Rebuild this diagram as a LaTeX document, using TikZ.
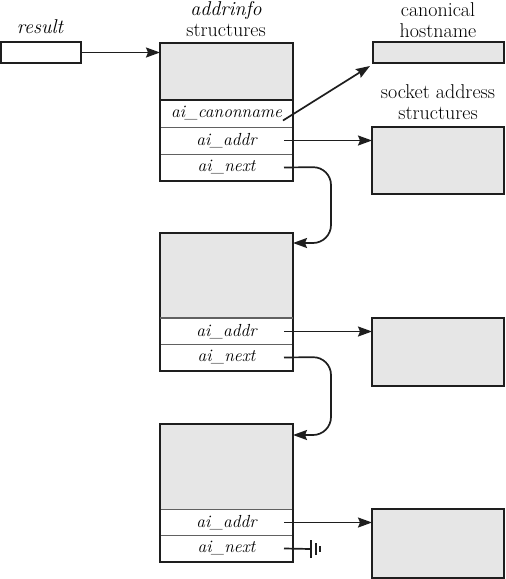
\documentclass[tikz,border=0pt]{standalone}
\usetikzlibrary{arrows.meta}
\definecolor{boxgray}{HTML}{E6E6E6}
\definecolor{ink}{HTML}{1E1E1E}
\begin{document}
\begin{tikzpicture}[x=1pt,y=-1pt,
  font=\fontsize{20}{24}\selectfont,
  every node/.style={inner sep=0pt, outer sep=0pt},
  grayfill/.style={fill=boxgray, draw=ink, line width=1.7pt, anchor=north west},
  rowbox/.style={fill=white, draw=ink!70, line width=1pt, anchor=north west, minimum width=133pt, minimum height=27pt, font=\fontsize{17.5}{21}\selectfont\itshape},
  outline/.style={draw=ink, line width=1.8pt},
  lbl/.style={font=\fontsize{20}{24}\selectfont},
  ptr/.style={draw=ink, line width=1.7pt, -{Stealth[length=14pt,width=10pt,inset=2pt]}},
  nextptr/.style={ptr, rounded corners=18pt}
]
\useasboundingbox (0,0) rectangle (506,579);

% labels
\node[lbl] (lres) at (40,27) {\itshape result};
\node[lbl] (laddr1) at (226,10) {\itshape addrinfo};
\node[lbl] (laddr2) at (226,30) {structures};
\node[lbl] (lcan1) at (438,10) {canonical};
\node[lbl] (lcan2) at (438,31) {hostname};
\node[lbl] (lsock1) at (438,92) {socket address};
\node[lbl] (lsock2) at (438,113) {structures};

% result box
\node[grayfill, fill=white, minimum width=80pt, minimum height=21pt] (res) at (1,42) {};

% addrinfo box 1
\node[grayfill, draw=none, minimum width=133pt, minimum height=57pt] (g1) at (160,43) {};
\node[rowbox] (canon1) at (160,100) {ai\_canonname};
\node[rowbox] (addr1) at (160,127) {ai\_addr};
\node[rowbox] (next1) at (160,154) {ai\_next};
\draw[outline] (g1.north west) rectangle (next1.south east);
\draw[ink, line width=1.4pt] (g1.south west) -- (g1.south east);

% addrinfo box 2
\node[grayfill, draw=none, minimum width=133pt, minimum height=85pt] (g2) at (160,233) {};
\node[rowbox] (addr2) at (160,318) {ai\_addr};
\node[rowbox] (next2) at (160,344) {ai\_next};
\draw[outline] (g2.north west) rectangle (next2.south east);
\draw[ink!70, line width=1.4pt] (g2.south west) -- (g2.south east);

% addrinfo box 3
\node[grayfill, draw=none, minimum width=133pt, minimum height=85pt] (g3) at (160,424) {};
\node[rowbox] (addr3) at (160,509) {ai\_addr};
\node[rowbox] (next3) at (160,535) {ai\_next};
\draw[outline] (g3.north west) rectangle (next3.south east);

% canonical hostname and socket address boxes
\node[grayfill, minimum width=131pt, minimum height=21pt] (canon) at (373,42) {};
\node[grayfill, minimum width=132pt, minimum height=67pt] (sock1) at (372,127) {};
\node[grayfill, minimum width=132pt, minimum height=68pt] (sock2) at (372,318) {};
\node[grayfill, minimum width=132pt, minimum height=69pt] (sock3) at (372,509) {};

% pointer start points
\coordinate (scan) at ([xshift=-10pt,yshift=-7pt]canon1.east);
\coordinate (sa1) at ([xshift=-9pt]addr1.east);
\coordinate (sn1) at ([xshift=-9pt]next1.east);
\coordinate (sa2) at ([xshift=-9pt]addr2.east);
\coordinate (sn2) at ([xshift=-9pt]next2.east);
\coordinate (sa3) at ([xshift=-9pt]addr3.east);
\coordinate (sn3) at ([xshift=-9pt]next3.east);
\coordinate (gnd) at (311,549);

% connectors
\draw[ptr] (res.east) -- (g1.west |- res.east);
\draw[ptr] (scan) -- ([xshift=-3pt,yshift=-3pt]canon.south west);
\draw[ptr] (sa1) -- (sa1 -| sock1.west);
\draw[ptr] (sa2) -- (sa2 -| sock2.west);
\draw[ptr] (sa3) -- (sa3 -| sock3.west);
\draw[nextptr] (sn1) -- (331,167) -- (331,243) -- ([yshift=-10pt]g2.north east);
\draw[nextptr] (sn2) -- (331,357) -- (331,435) -- ([yshift=-11pt]g3.north east);

% null terminator
\draw[ink, line width=1.7pt] (sn3) -- (gnd);
\draw[ink, line width=1.8pt] (311,540) -- (311,558);
\draw[ink, line width=1.8pt] (316,543) -- (316,555);
\draw[ink, line width=1.8pt] (320,546) -- (320,552);
\end{tikzpicture}
\end{document}
